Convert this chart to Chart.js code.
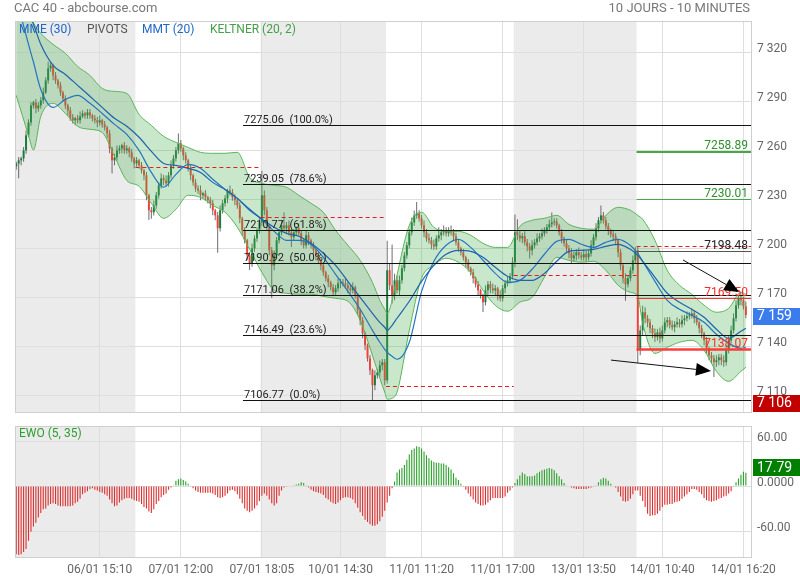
<!DOCTYPE html>
<html><head><meta charset="utf-8">
<script src="https://cdn.jsdelivr.net/npm/chart.js@4.4.1/dist/chart.umd.min.js"></script>
<style>
html,body{margin:0;padding:0;background:#fff;}
body{width:800px;height:580px;position:relative;overflow:hidden;font-family:Roboto,"Noto Sans",sans-serif;}
canvas{position:absolute;left:0;}
#c1{top:0;} #c2{top:413px;}
.t{position:absolute;white-space:nowrap;font-size:12px;line-height:14px;}
</style></head><body>
<canvas id="c1" width="800" height="416"></canvas>
<canvas id="c2" width="800" height="167"></canvas>
<div class="t" style="left:14px;top:1px;font-size:13px;color:#777">CAC 40 - abcbourse.com</div>
<div class="t" style="right:50px;top:1px;font-size:13px;color:#777">10 JOURS - 10 MINUTES</div>
<div class="t" style="left:19px;top:22px;color:#1e66c8">MME (30)</div>
<div class="t" style="left:87px;top:22px;color:#555">PIVOTS</div>
<div class="t" style="left:142px;top:22px;color:#1e66c8">MMT (20)</div>
<div class="t" style="left:210px;top:22px;color:#43a047">KELTNER (20, 2)</div>
<div class="t" style="left:19px;top:426px;color:#2e9e2e">EWO (5, 35)</div>
<script>
// ---------- DATA ----------
// 10-minute closes, bar index 0..297 (06/01 09:20 -> 14/01 16:20)
const closes = [
// 06/01
7251.8,7253.7,7254.9,7259.8,7269.0,7276.9,7287.3,7289.2,7285.5,7287.3,
7290.4,7295.3,7302.6,7310.0,7311.8,7305.7,7302.6,7299.6,7295.3,7291.6,
7287.3,7284.3,7280.0,7278.2,7279.4,7278.2,7280.6,7282.4,7281.2,7283.1,
7281.2,7279.4,7278.2,7276.9,7278.2,7275.7,7273.9,7270.2,7261.0,7253.7,
7255.5,7259.8,7261.0,7262.9,7259.8,7261.0,7258.6,7254.9,7251.8,
// 07/01
7253.7,7250.6,7247.6,7244.5,7232.3,7223.1,7221.9,7226.1,7232.3,7238.4,
7242.7,7241.4,7239.6,7244.5,7250.6,7254.9,7259.8,7264.1,7261.0,7256.7,
7253.7,7248.8,7244.5,7240.2,7236.5,7235.3,7232.3,7233.5,7231.0,7229.2,
7227.4,7223.1,7220.0,7212.1,7223.1,7227.4,7230.4,7235.3,7234.1,7231.0,
7229.2,7226.1,7218.2,7210.8,7204.7,7195.5,7190.6,7199.8,7205.9,7210.8,
7215.7,
// 10/01
7232.3,7223.1,7213.9,7198.6,7189.4,7195.5,7204.7,7209.6,7213.9,7212.1,
7213.9,7209.6,7206.6,7209.6,7212.1,7209.0,7204.7,7201.7,7207.8,7204.7,
7201.7,7198.6,7195.5,7192.5,7189.4,7185.1,7181.5,7179.0,7176.0,7172.9,
7175.3,7178.4,7179.0,7178.4,7177.2,7175.3,7174.1,7176.0,7171.1,7161.9,
7155.8,7147.8,7140.5,7132.5,7125.2,7116.0,7122.1,7123.9,7128.2,7130.1,
7119.0,
// 11/01
7186.4,7177.2,7171.1,7180.2,7174.1,7180.2,7187.6,7195.5,7201.7,7209.6,
7215.7,7220.0,7221.2,7218.2,7213.9,7209.6,7205.9,7204.7,7202.3,7201.0,
7205.9,7207.8,7209.6,7210.8,7209.0,7210.8,7209.6,7207.2,7203.5,7199.8,
7197.4,7194.3,7191.3,7187.6,7185.1,7181.5,7177.8,7174.1,7171.1,7166.8,
7174.1,7177.8,7175.3,7174.1,7175.3,7171.1,7169.2,7175.3,7178.4,7180.2,
7182.7,7191.3,
// 13/01
7209.6,7207.8,7205.9,7207.2,7203.5,7201.0,7198.6,7201.7,7203.5,
7205.9,7207.2,7209.0,7210.8,7212.7,7214.5,7215.7,7216.3,7213.9,7209.6,
7205.9,7202.9,7199.8,7196.8,7193.7,7195.5,7197.4,7195.5,7194.3,7196.2,
7194.3,7196.8,7201.7,7206.6,7212.1,7217.0,7220.0,7217.0,7213.3,7210.8,
7208.4,7207.2,7204.7,7197.4,7189.4,7181.5,7177.8,7181.5,7186.4,7192.5,
7198.6,
// 14/01
7137.4,7149.6,7160.7,7157.0,7154.5,7150.9,7147.8,7145.4,7148.4,7144.7,
7149.6,7154.5,7155.8,7152.7,7151.5,7153.3,7154.5,7153.3,7155.8,7157.0,
7158.2,7158.8,7160.0,7157.0,7154.5,7150.9,7147.8,7143.5,7138.6,7134.3,
7132.5,7130.1,7131.3,7133.1,7131.3,7130.1,7137.4,7143.5,7149.6,7157.0,
7164.9,7169.2,7168.0,7164.3,7159.0
];
const firstOpen = 7250.0;
// wick length above the body / below the body (points)
const wickUp = [
1,2,1,2,3,2,2,1,2,2, 2,3,2,4,2,1,2,1,2,1, 2,1,2,2,1,2,3,2,1,2, 2,1,2,2,3,1,2,1,2,1,
2,3,2,1,2,2,1,2,1,2, 1,2,1,2,1,2,3,2,2,3, 2,3,2,3,2,2,6,2,1,2, 1,2,1,2,2,3,1,2,1,2,
2,1,2,3,2,2,1,3,2,2, 1,2,1,2,1,2,3,2,2,3, 15,3,2,1,2,3,2,2,3,8, 2,3,2,2,1,3,2,1,3,2,
1,2,1,2,1,2,1,2,1,2, 2,3,2,2,3,2,2,3,1,1, 1,2,1,1,2,1,3,2,3,2, 2,18,4,25,4,3,3,2,2,2,
2,3,3,7,2,2,3,2,3,2, 3,2,5,2,3,2,2,3,2,2, 2,1,2,1,2,1,2,1,2,1, 1,3,2,2,3,2,1,3,2,2,
2,2,3,11,8,3,2,3,2,2, 3,2,3,2,3,2,2,3,6,2, 2,1,2,1,2,2,3,2,2,3, 2,3,2,2,3,2,3,2,6,2,
2,2,1,2,2,1,2,1,3,2, 2,3,2,2,3,4,3,2,2,2, 3,2,3,3,3,2,2,3,2,3, 2,3,2,3,2,3,2,2,1,2,
1,2,1,2,2,3,2,2,3,3, 3,3,3,3,2,2,2,3
];
const wickDown = [
2,9,3,2,2,1,2,2,3,2, 2,2,1,2,2,3,2,2,2,2, 2,3,2,2,3,2,2,1,2,2, 2,2,2,3,2,2,2,3,3,8,
3,2,2,3,2,2,3,2,3,2, 2,2,3,3,6,4,2,2,2,2, 3,2,2,2,2,2,2,2,3,2, 2,3,2,2,2,3,2,2,2,3,
3,3,15,2,2,2,3,2,2,3, 2,3,3,2,3,4,2,2,2,2, 2,3,3,3,20,3,2,2,2,2, 3,2,6,2,2,2,3,2,2,3,
2,2,3,2,3,2,2,3,2,2, 2,2,3,2,2,3,2,2,2,3, 3,3,3,2,3,9,3,2,3,3, 3,2,3,5,3,2,3,2,2,2,
2,2,2,2,2,2,3,2,2,3, 2,2,2,3,2,2,2,2,3,2, 2,2,2,3,2,2,3,2,3,2, 6,2,3,3,2,3,3,2,2,3,
2,2,2,3,3,2,3,2,3,5, 3,2,2,2,2,2,2,2,2,2, 2,2,3,2,2,3,3,2,3,2, 2,2,3,2,2,2,2,2,2,2,
2,3,2,3,3,3,3,3,10,2, 2,2,2,8,3,3,3,3,3,3, 3,2,3,2,2,3,2,2,3,2, 2,2,3,2,2,2,3,2,3,3,
3,3,3,3,9,3,3,3,3,2, 2,2,2,2,2,3,2,2
];
// EWO (5, 35) per bar
const ewo = [
-91,-92,-91,-88,-84,-73,-61,-54,-49,-42, -36,-31,-30,-26,-24,-23,-24,-26,-27,-27,
-27,-27,-27,-26,-23,-21,-17,-11,-9,-7, -4,-3,-5,-6,-8,-9,-11,-13,-18,-23,
-27,-26,-22,-19,-17,-16,-16,-17,-19,-20, -21,-24,-28,-30,-34,-36,-31,-24,-20,-15,
-12,-10,-5,-2,1,7,9,10,8,6, 3,0,-3,-6,-8,-9,-9,-9,-9,-9,
-10,-12,-15,-16,-15,-13,-10,-6,-5,-7, -11,-17,-23,-30,-33,-35,-33,-30,-26,-20,
-13,-10,-13,-18,-23,-26,-23,-13,-6,-2, -1,-0.5,-0.5,0.5,2,3,5,4,1,-2,
-5,-7,-8,-9,-10,-12,-16,-18,-21,-23, -24,-22,-19,-16,-15,-15,-16,-18,-23,-29,
-35,-40,-45,-48,-51,-53,-53,-51,-47,-41, -33,-22,-13,-3,6,18,22,24,28,35,
42,48,50,53,52,50,46,41,37,34, 32,31,31,30,30,28,25,22,17,11,
8,3,-1,-5,-10,-14,-18,-22,-24,-26, -26,-25,-22,-19,-16,-16,-16,-16,-16,-14,
-9,-6,-2,4,9,14,18,16,13,13, 13,14,17,19,21,22,23,24,23,21,
17,13,9,4,1,-0.5,-2,-3,-4,-4, -4,-4,-4,-3,-2,-1,1,5,9,11,
10,7,3,-0.5,-2,-8,-14,-20,-21,-20, -17,-11,-6,-6,-13,-20,-28,-37,-40,-39,
-39,-37,-33,-28,-25,-25,-24,-24,-22,-21, -20,-17,-14,-11,-8,-4,-4,-5,-8,-11,
-16,-19,-20,-21,-20,-19,-17,-16,-14,-13, -10,-7,-1,5,10,15,19,17.79
];
// indicator lines, read at these bar indexes
const lineIdx = [0,5,7,10,15,20,25,30,35,40,45,50,55,60,65,70,75,80,85,90,95,100,105,110,115,120,125,130,135,140,145,148,150,151,153,155,160,165,170,175,180,185,190,195,200,205,210,215,220,225,230,235,240,245,250,253,255,260,265,270,275,280,285,290,295,297];
const mme30 = [7363.8,7344.9,7337.2,7324.7,7311.8,7306.3,7299.6,7292.9,7286.1,7279.4,7274.5,7267.8,7259.2,7251.8,7250.6,7248.8,7246.3,7240.2,7235.9,7230.4,7223.7,7217.6,7212.7,7209.0,7207.2,7202.9,7196.8,7189.4,7179.6,7169.8,7160.0,7154.5,7151.5,7149.6,7152.7,7157.0,7167.4,7179.6,7189.4,7196.2,7198.6,7198.0,7194.3,7188.2,7182.7,7180.2,7180.2,7184.5,7191.9,7198.0,7198.6,7199.2,7201.0,7202.3,7199.2,7195.5,7191.9,7182.1,7172.3,7166.8,7162.5,7157.6,7150.3,7144.7,7149.0,7150.9];
const mmt20 = [7353.0,7324.7,7313.9,7297.1,7286.1,7291.0,7293.5,7288.6,7282.4,7275.7,7269.6,7259.8,7246.3,7237.2,7245.1,7251.2,7248.8,7242.1,7235.9,7230.4,7223.1,7217.6,7210.2,7204.7,7204.7,7202.3,7194.3,7183.9,7173.5,7162.5,7149.6,7142.3,7138.0,7136.2,7133.7,7131.9,7142.3,7173.5,7191.9,7201.7,7205.3,7200.4,7192.5,7184.5,7179.0,7180.2,7187.0,7196.2,7204.1,7205.3,7202.3,7200.4,7203.5,7205.3,7201.6,7196.8,7191.9,7179.6,7168.0,7162.5,7158.8,7154.5,7147.2,7141.7,7138.6,7139.2];
const keltUpper = [7352.0,7343.0,7337.8,7331.4,7324.7,7319.2,7311.2,7305.7,7297.7,7295.9,7294.7,7281.8,7275.1,7268.4,7264.7,7261.6,7258.6,7258.0,7258.0,7258.6,7243.3,7239.6,7238.4,7237.2,7232.3,7227.4,7221.9,7210.8,7201.7,7192.5,7179.0,7168.0,7162.5,7160.0,7168.0,7183.3,7213.9,7221.9,7212.7,7210.2,7210.2,7207.8,7202.9,7200.4,7200.4,7213.3,7217.0,7218.2,7220.0,7214.5,7212.1,7211.5,7220.0,7224.9,7223.1,7220.0,7217.6,7204.7,7186.4,7177.2,7171.7,7165.0,7160.7,7163.1,7172.9,7171.7];
const keltLower = [7293.5,7269.0,7260.0,7280.6,7288.6,7282.4,7274.5,7272.7,7270.8,7256.1,7241.4,7237.8,7227.4,7218.2,7223.7,7232.3,7231.0,7226.1,7221.9,7212.7,7199.2,7185.1,7174.1,7172.3,7171.7,7171.7,7170.4,7169.2,7167.4,7155.8,7134.3,7120.3,7111.7,7107.4,7108.0,7111.7,7149.6,7181.5,7189.4,7193.7,7191.3,7185.1,7174.1,7164.9,7161.3,7166.8,7169.8,7182.1,7194.3,7192.5,7191.3,7191.9,7186.4,7177.2,7172.9,7170.4,7153.9,7135.5,7139.2,7142.3,7143.5,7137.4,7124.5,7118.4,7124.5,7127.0];
// axes
const xTickIdx = [34,67,100,132,165,198,231,263,296];
const xTickLabels = ['06/01 15:10','07/01 12:00','07/01 18:05','10/01 14:30','11/01 11:20','11/01 17:00','13/01 13:50','14/01 10:40','14/01 16:20'];
const yTicks = [7110,7140,7170,7200,7230,7260,7290,7320];
const ewoTicks = [60,0,-60];
const ewoTickLabels = ['60.00','0.0000','-60.00'];
// sessions shaded (bar index ranges)
const dayShade = [[-0.5,48.5],[99.5,150.5],[202.5,252.5]];
// pivots: [fromIdx, toIdx, value]
const pivotSegs = [[48.5,99.5,7249.6],[99.5,150.5,7219.3],[150.5,202.5,7115.8],[202.5,252.5,7183.5],[252.5,299.5,7201.4]];
// Fibonacci retracement
const fibLevels = [7275.06,7239.05,7210.77,7190.92,7171.06,7146.49,7106.77];
const fibPct = ['100.0%','78.6%','61.8%','50.0%','38.2%','23.6%','0.0%'];
const fibFrom = 92.3;
// last-session levels
const sideLevels = [7258.89,7230.01,7198.48,7169.50,7138.07];
const sideFrom = 252.5;
// arrows: [fromIdx, fromValue, toIdx, toValue]
const arrows = [[271.4,7192.7,294.3,7173.1],[242.1,7131.4,282.8,7124.7]];
const lowMark = 7106;

// ---------- STYLES ----------
const UP = 'rgb(24,124,62)', DOWN = 'rgb(242,64,52)';
const sideLineColors = ['#45a845','#45a845','#555','#e53935','#ff3d3d'];
const sideLineWidths = [2,1,1,1,2.5];
const sideTextColors = ['#2f8f2f','#2f8f2f','#222','#ff2b2b','#ff2b2b'];
const GRID = '#dedede';
const FONT = 'Roboto';

// ---------- BUILD ----------
const opens = closes.map((c,i)=> i===0 ? firstOpen : closes[i-1]);
const bodies = closes.map((c,i)=>({x:i, y:[opens[i], c]}));
const wicks = closes.map((c,i)=>({x:i, y:[Math.min(opens[i],c)-wickDown[i], Math.max(opens[i],c)+wickUp[i]]}));
const bodyColors = closes.map((c,i)=> c>=opens[i] ? UP : DOWN);
const pts = arr => lineIdx.map((ix,k)=>({x:ix, y:arr[k]}));
const fmtK = v => String(v).replace(/\B(?=(\d{3})+(?!\d))/g,' ');

function shade(chart){
  const {ctx, chartArea:a, scales:{x}} = chart;
  ctx.save(); ctx.fillStyle = '#ebebeb';
  dayShade.forEach(([s,e])=>{
    const x1 = Math.max(a.left, x.getPixelForValue(s));
    const x2 = Math.min(a.right, x.getPixelForValue(e));
    ctx.fillRect(x1, a.top, x2-x1, a.bottom-a.top);
  });
  ctx.restore();
}
function frame(chart){
  const {ctx, chartArea:a} = chart;
  ctx.save(); ctx.strokeStyle = '#cfcfcf'; ctx.lineWidth = 1;
  ctx.strokeRect(Math.round(a.left)+0.5, Math.round(a.top)+0.5, Math.round(a.right-a.left)-1, Math.round(a.bottom-a.top)-1);
  ctx.restore();
}
function tag(chart, scale, value, text, color, dy){
  const {ctx, chartArea:a} = chart;
  const py = scale.getPixelForValue(value) + dy;
  ctx.save();
  ctx.fillStyle = color; ctx.fillRect(a.right+1, Math.round(py-8.5), 48, 17);
  ctx.fillStyle = '#fff'; ctx.font = '14px '+FONT; ctx.textBaseline = 'middle'; ctx.textAlign = 'left';
  ctx.fillText(text, a.right+5, py+0.5);
  ctx.restore();
}

const mainOverlay = {
  id:'mainOverlay',
  beforeDraw(chart){ shade(chart); },
  afterDatasetsDraw(chart){
    const {ctx, chartArea:a, scales:{x,y}} = chart;
    ctx.save();
    ctx.beginPath(); ctx.rect(a.left,a.top,a.right-a.left,a.bottom-a.top); ctx.clip();
    // pivots
    ctx.strokeStyle = '#e02020'; ctx.lineWidth = 1; ctx.setLineDash([4,3]);
    pivotSegs.forEach(([i0,i1,v])=>{
      const py = Math.round(y.getPixelForValue(v))+0.5;
      ctx.beginPath(); ctx.moveTo(x.getPixelForValue(i0),py); ctx.lineTo(x.getPixelForValue(i1),py); ctx.stroke();
    });
    ctx.setLineDash([]);
    // fibonacci
    const fx = x.getPixelForValue(fibFrom);
    ctx.strokeStyle = '#111'; ctx.fillStyle = '#222'; ctx.font = '11px '+FONT;
    ctx.textAlign = 'left'; ctx.textBaseline = 'alphabetic';
    fibLevels.forEach((v,k)=>{
      const py = Math.round(y.getPixelForValue(v))+0.5;
      ctx.beginPath(); ctx.moveTo(fx,py); ctx.lineTo(a.right,py); ctx.stroke();
      ctx.fillText(v.toFixed(2)+'  ('+fibPct[k]+')', fx+1, py-2.5);
    });
    // side levels
    const sx = x.getPixelForValue(sideFrom);
    ctx.font = '12px '+FONT; ctx.textAlign = 'right';
    sideLevels.forEach((v,k)=>{
      const w = sideLineWidths[k];
      const py = w%2 ? Math.round(y.getPixelForValue(v))+0.5 : Math.round(y.getPixelForValue(v));
      ctx.strokeStyle = sideLineColors[k]; ctx.lineWidth = w;
      ctx.beginPath(); ctx.moveTo(sx,py); ctx.lineTo(a.right,py); ctx.stroke();
      ctx.fillStyle = sideTextColors[k];
      ctx.fillText(v.toFixed(2), a.right-4, py-3);
    });
    // arrows
    ctx.strokeStyle = '#111'; ctx.fillStyle = '#000'; ctx.lineWidth = 1;
    arrows.forEach(([i0,v0,i1,v1])=>{
      const x0=x.getPixelForValue(i0), y0=y.getPixelForValue(v0), x1=x.getPixelForValue(i1), y1=y.getPixelForValue(v1);
      const ang = Math.atan2(y1-y0, x1-x0), L=15, W=6.5;
      const bx = x1-L*Math.cos(ang), by = y1-L*Math.sin(ang);
      ctx.beginPath(); ctx.moveTo(x0,y0); ctx.lineTo(bx,by); ctx.stroke();
      ctx.beginPath(); ctx.moveTo(x1,y1);
      ctx.lineTo(bx - W*Math.sin(ang), by + W*Math.cos(ang));
      ctx.lineTo(bx + W*Math.sin(ang), by - W*Math.cos(ang));
      ctx.closePath(); ctx.fill();
    });
    ctx.restore();
  },
  afterDraw(chart){
    frame(chart);
    const y = chart.scales.y;
    tag(chart, y, closes[closes.length-1], fmtK(Math.round(closes[closes.length-1])), '#3b7cec', 1);
    tag(chart, y, lowMark, fmtK(lowMark), '#c20000', 1.5);
  }
};

const ewoOverlay = {
  id:'ewoOverlay',
  beforeDraw(chart){ shade(chart); },
  afterDraw(chart){
    frame(chart);
    const last = ewo[ewo.length-1];
    tag(chart, chart.scales.y, last, last.toFixed(2), '#008000', -5);
  }
};

const xBase = {
  type:'linear', min:-0.5, max:299.5, offset:false,
  grid:{color:GRID, drawTicks:false, offset:false}, border:{display:false},
  afterBuildTicks:s=>{ s.ticks = xTickIdx.map(v=>({value:v})); }
};

new Chart(document.getElementById('c1'), {
  type:'line',
  data:{datasets:[
    {type:'line', label:'MME (30)', data:pts(mme30), borderColor:'#1c64b0', borderWidth:1.2, pointRadius:0, cubicInterpolationMode:'monotone', fill:false, order:0},
    {type:'line', label:'MMT (20)', data:pts(mmt20), borderColor:'#2476c0', borderWidth:1.2, pointRadius:0, cubicInterpolationMode:'monotone', fill:false, order:0},
    {type:'line', label:'Keltner haut', data:pts(keltUpper), borderColor:'#5bb55b', borderWidth:1, pointRadius:0, cubicInterpolationMode:'monotone', fill:'+1', backgroundColor:'rgba(76,175,80,0.3)', order:1},
    {type:'line', label:'Keltner bas', data:pts(keltLower), borderColor:'#5bb55b', borderWidth:1, pointRadius:0, cubicInterpolationMode:'monotone', fill:false, order:1},
    {type:'bar', label:'Corps', data:bodies, backgroundColor:bodyColors, grouped:false, categoryPercentage:1, barPercentage:0.8, order:2},
    {type:'bar', label:'Mèches', data:wicks, backgroundColor:'#6a6a6a', grouped:false, categoryPercentage:1, barPercentage:0.4, order:3}
  ]},
  options:{
    responsive:false, animation:false, events:[],
    layout:{padding:{top:21,bottom:3,left:15,right:0}},
    plugins:{legend:{display:false}, tooltip:{enabled:false}},
    scales:{
      x:Object.assign({}, xBase, {
        ticks:{display:false},
        afterFit:s=>{ s.height=0; s.paddingLeft=0; s.paddingRight=0; }
      }),
      y:{type:'linear', position:'right', min:7099, max:7339,
        grid:{color:GRID, drawTicks:false}, border:{display:false},
        ticks:{color:'#666', font:{family:FONT, size:12}, padding:5, labelOffset:-3, callback:v=>fmtK(v)},
        afterBuildTicks:s=>{ s.ticks = yTicks.map(v=>({value:v})); },
        afterFit:s=>{ s.width=48; s.paddingTop=0; s.paddingBottom=0; }
      }
    }
  },
  plugins:[mainOverlay]
});

new Chart(document.getElementById('c2'), {
  type:'bar',
  data:{datasets:[
    {label:'EWO (5, 35)', data:ewo.map((v,i)=>({x:i, y:v})), backgroundColor:ewo.map(v=> v>=0 ? '#2ca02c' : '#dc3030'), grouped:false, categoryPercentage:1, barPercentage:0.45}
  ]},
  options:{
    responsive:false, animation:false, events:[],
    layout:{padding:{top:13,bottom:0,left:15,right:0}},
    plugins:{legend:{display:false}, tooltip:{enabled:false}},
    scales:{
      x:Object.assign({}, xBase, {
        ticks:{color:'#666', font:{family:FONT, size:12}, padding:5, maxRotation:0, autoSkip:false, callback:(v,i)=>xTickLabels[i]},
        afterFit:s=>{ s.height=22; s.paddingLeft=0; s.paddingRight=0; }
      }),
      y:{type:'linear', position:'right', min:-96, max:80, beginAtZero:false,
        grid:{color:GRID, drawTicks:false}, border:{display:false},
        ticks:{color:'#666', font:{family:FONT, size:12}, padding:5, labelOffset:-3, callback:(v,i)=>ewoTickLabels[i]},
        afterBuildTicks:s=>{ s.ticks = ewoTicks.map(v=>({value:v})); },
        afterFit:s=>{ s.width=48; s.paddingTop=0; s.paddingBottom=0; }
      }
    }
  },
  plugins:[ewoOverlay]
});
</script>
</body></html>
